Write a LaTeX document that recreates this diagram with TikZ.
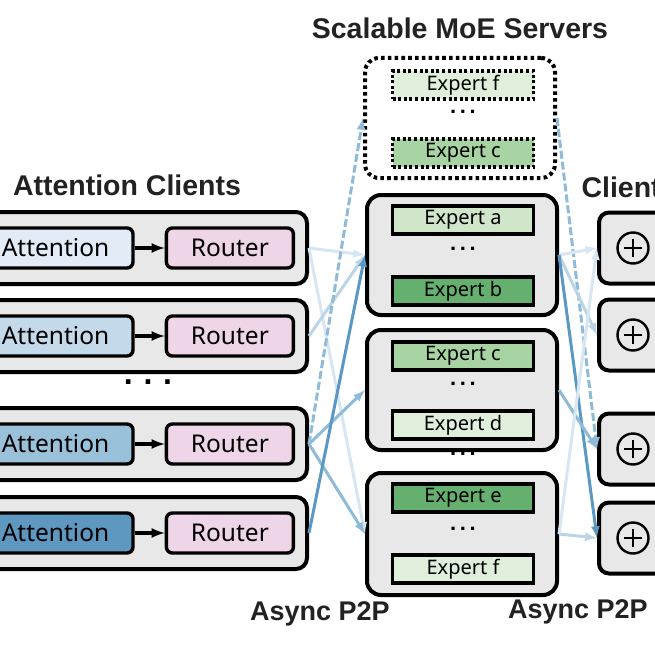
\documentclass[tikz,border=0pt]{standalone}
\usepackage{fontspec}
\setmainfont{Noto Sans}
\newfontfamily\ttlfont{Liberation Sans}
\usepackage{xcolor}
\usetikzlibrary{arrows, calc, positioning}
\definecolor{boxgray}{HTML}{E8E8E8}
\definecolor{attA}{HTML}{E2ECF6}
\definecolor{attB}{HTML}{C4D9EA}
\definecolor{attC}{HTML}{9AC1DA}
\definecolor{attD}{HTML}{5E98C0}
\definecolor{rtpink}{HTML}{EED5E7}
\definecolor{gPale}{HTML}{E0EFDC}
\definecolor{gLight}{HTML}{CFE6CB}
\definecolor{gMid}{HTML}{A8D3A2}
\definecolor{gDark}{HTML}{66B06F}
\definecolor{lnA}{HTML}{D7E6F2}
\definecolor{lnB}{HTML}{BAD4E8}
\definecolor{lnC}{HTML}{8EBBD8}
\definecolor{lnD}{HTML}{5B98C4}
\definecolor{ink}{HTML}{222222}
\tikzset{
  % Client row frame
  rowbox/.style={
    draw, fill=boxgray, line width=4pt, rounded corners=11pt,
    minimum width=350pt, minimum height=72pt
  },
  attbox/.style={
    draw, line width=3.4pt, rounded corners=6pt,
    minimum width=155pt, minimum height=40pt,
    font=\fontsize{24.5}{26}\selectfont
  },
  rtbox/.style={
    draw, fill=rtpink, line width=3.4pt, rounded corners=6pt,
    minimum width=127pt, minimum height=40pt,
    font=\fontsize{24.5}{26}\selectfont
  },
  % Server frames and experts
  srvbox/.style={
    draw, fill=boxgray, line width=4pt, rounded corners=14pt,
    minimum width=190pt, minimum height=120pt
  },
  expbox/.style={
    draw, line width=3.2pt, minimum width=141pt, minimum height=28pt,
    inner sep=0pt, font=\fontsize{20}{20}\selectfont
  },
  clbox/.style={
    draw, fill=boxgray, line width=4pt, rounded corners=10pt,
    minimum width=110pt, minimum height=71pt
  },
  plus/.style={
    circle, draw, line width=2.4pt, minimum size=31pt,
    path picture={
      \draw[line width=2.4pt] ($(path picture bounding box.center)+(-9pt,0)$) -- ++(18pt,0);
      \draw[line width=2.4pt] ($(path picture bounding box.center)+(0,-9pt)$) -- ++(0,18pt);
    }
  },
  dots/.style={font=\fontsize{22}{22}\ttlfont\bfseries},
  ttl/.style={text=ink, font=\fontsize{28.5}{30}\ttlfont\bfseries},
  % Graph arrow style
  garr/.style={line width=3pt},
}
\begin{document}
\begin{tikzpicture}[x=1pt, y=-1pt]
  \useasboundingbox (0,0) rectangle (655,655);
  \clip (0,0) rectangle (655,655);

  % titles
  \node (tcl) [ttl] at (127,185) {Attention Clients};
  \node (tsv) [ttl] at (460,28) {Scalable MoE Servers};
  \node (tcr) [ttl, anchor=west] at (578,187) {Clients};
  \node (pl) [ttl, font=\fontsize{27}{28}\ttlfont\bfseries] at (320,614) {Async P2P};
  \node (pr) [ttl, font=\fontsize{27}{28}\ttlfont\bfseries] at (578,612) {Async P2P};

  % attention clients
  \node (row1) [rowbox] at (132,248) {};
  \node (row2) [rowbox] at (132,336) {};
  \node (row3) [rowbox] at (132,444) {};
  \node (row4) [rowbox] at (132,533) {};
  \foreach \r/\c in {1/attA, 2/attB, 3/attC, 4/attD} {
    \node (att\r) [attbox, fill=\c] at ($(row\r.center)+(-76.5,0)$) {Attention};
    \node (rt\r) [rtbox, right=30pt of att\r] {Router};
    \draw[-latex,garr,line width=3.4pt] (att\r) -- (rt\r);
  }
  \node (ldots) [dots, font=\fontsize{32}{32}\ttlfont\bfseries] at (148,382) {.\,\,.\,\,.};

  % MoE servers
  \node (dotbox) [srvbox, fill=none, dash pattern=on 3.6pt off 3.2pt] at (460,118) {};
  \node (srv1) [srvbox] at (462,255) {};
  \node (srv2) [srvbox] at (462,390) {};
  \node (srv3) [srvbox, minimum height=122pt] at (462,534) {};

  \node (xf0) [expbox, fill=gPale, dash pattern=on 3pt off 2.6pt] at (463,85) {Expert f};
  \node (xc0) [expbox, fill=gMid, dash pattern=on 3pt off 2.6pt] at (463,153) {Expert c};
  \node (xa) [expbox, fill=gLight] at (463,220) {Expert a};
  \node (xb) [expbox, fill=gDark] at (463,291) {Expert b};
  \node (xc) [expbox, fill=gMid] at (463,356) {Expert c};
  \node (xd) [expbox, fill=gPale] at (463,425) {Expert d};
  \node (xe) [expbox, fill=gDark] at (463,498) {Expert e};
  \node (xf) [expbox, fill=gPale] at (463,569) {Expert f};

  \node (d0) [dots] at (463,112) {.\,.\,.};
  \node (d1) [dots] at (463,249) {.\,.\,.};
  \node (d2) [dots] at (463,384) {.\,.\,.};
  \node (d3) [dots] at (463,454) {.\,.\,.};
  \node (d4) [dots] at (463,529) {.\,.\,.};

  % clients on the right
  \node (cl1) [clbox, anchor=west] at (597,248) {};
  \node (cl2) [clbox, anchor=west] at (597,335) {};
  \node (cl3) [clbox, anchor=west] at (597,449) {};
  \node (cl4) [clbox, anchor=west] at (597,538) {};
  \foreach \k in {1,...,4}
    \node (ad\k) [plus] at ($(cl\k.west)+(36,0)$) {};

  % dispatch
  \draw[-latex,garr,lnA] (row1.east) -- (srv1.west);
  \draw[-latex,garr,lnA] (row1.east) -- (srv3.west);
  \draw[-latex,garr,lnB] (row2.east) -- (srv1.west);
  \draw[-latex,garr,lnC,dash pattern=on 8pt off 3pt] (row3.east) -- (dotbox.west);
  \draw[-latex,garr,lnC] (row3.east) -- (srv2.west);
  \draw[-latex,garr,lnC] (row3.east) -- (srv3.west);
  \draw[-latex,garr,lnD] (row4.east) -- (srv1.west);

  % combine
  \draw[-latex,garr,lnC,dash pattern=on 8pt off 3pt] (dotbox.east) -- (cl3.west);
  \draw[-latex,garr,lnA] (srv1.east) -- (cl1.west);
  \draw[-latex,garr,lnB] (srv1.east) -- (cl2.west);
  \draw[-latex,garr,lnD] (srv1.east) -- (cl4.west);
  \draw[-latex,garr,lnC] (srv2.east) -- (cl3.west);
  \draw[-latex,garr,lnB] (srv3.east) -- (cl4.west);
  \draw[-latex,garr,lnA] (srv3.east) -- (cl1.west);
\end{tikzpicture}
\end{document}
